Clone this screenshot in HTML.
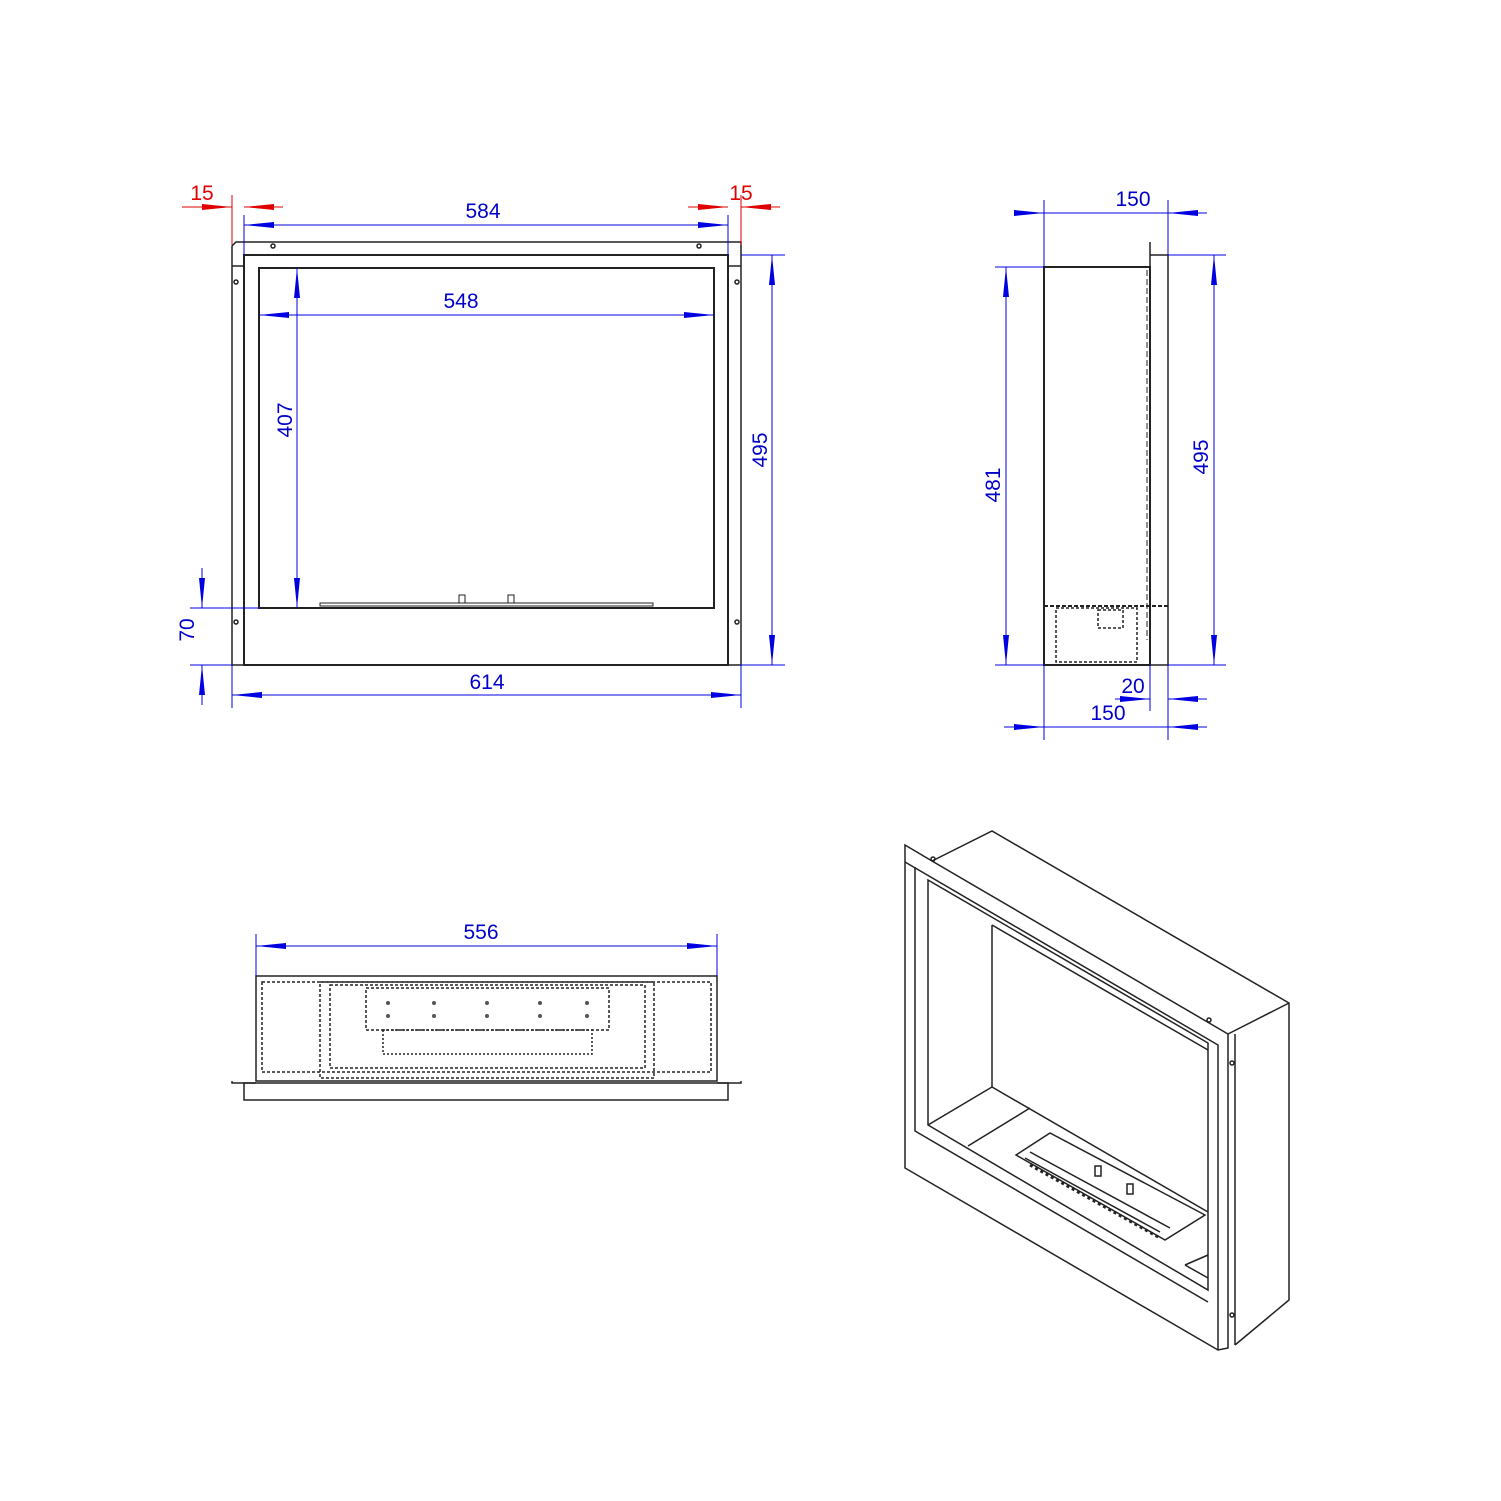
<!DOCTYPE html>
<html><head><meta charset="utf-8"><style>
html,body{margin:0;padding:0;background:#fff}
svg{display:block}
text{font-family:"Liberation Sans",sans-serif;font-size:21px}
</style></head><body>
<svg width="1501" height="1501" viewBox="0 0 1501 1501" xmlns="http://www.w3.org/2000/svg">
<defs>
<marker id="ab" viewBox="0 0 30 8" refX="30" refY="4" markerWidth="30" markerHeight="8" markerUnits="userSpaceOnUse" orient="auto-start-reverse"><path d="M0,1 L30,4 L0,7z" fill="#0000e0"/></marker>
<marker id="ar" viewBox="0 0 30 8" refX="30" refY="4" markerWidth="30" markerHeight="8" markerUnits="userSpaceOnUse" orient="auto-start-reverse"><path d="M0,1 L30,4 L0,7z" fill="#e00000"/></marker>
</defs>
<g fill="none" stroke="#222" stroke-width="1.5">
<path d="M236,242 H741 V665 H232 V246z"/>
<rect x="244" y="255" width="484" height="410" stroke-width="2"/>
<rect x="259" y="268" width="455" height="340" stroke-width="2"/>
<line x1="232" y1="266" x2="244" y2="266"/><line x1="728" y1="266" x2="741" y2="266"/>
<rect x="320" y="603" width="333" height="3" stroke-width="1"/>
<rect x="459" y="595" width="6" height="8" stroke-width="1"/><rect x="508" y="595" width="6" height="8" stroke-width="1"/>
<circle cx="273" cy="246" r="2"/><circle cx="699" cy="246" r="2"/>
<circle cx="236" cy="282" r="2"/><circle cx="236" cy="622" r="2"/><circle cx="737" cy="282" r="2"/><circle cx="737" cy="622" r="2"/>
<rect x="1044" y="267" width="106" height="398" stroke-width="2"/>
<path d="M1150,242 V665 H1168 V255 H1150"/>
<line x1="1044" y1="606" x2="1168" y2="606" stroke-dasharray="4,2" stroke-width="2"/>
<rect x="1056" y="608" width="81" height="54" stroke-dasharray="3,2"/>
<rect x="1098" y="610" width="25" height="18" stroke-dasharray="3,2"/>
<line x1="1147" y1="270" x2="1147" y2="640" stroke-dasharray="6,3" stroke-width="1"/>
<rect x="256" y="976" width="461" height="105"/>
<rect x="262" y="982" width="449" height="90" stroke-dasharray="3,2"/>
<rect x="320" y="982" width="334" height="96" stroke-dasharray="3,2"/>
<rect x="330" y="985" width="315" height="83" stroke-dasharray="3,2"/>
<rect x="366" y="988" width="243" height="42" stroke-dasharray="3,2"/>
<rect x="383" y="1030" width="209" height="24" stroke-dasharray="2,2"/>
<path d="M232,1081 V1083 H256 M717,1083 H741 V1081" />
<rect x="244" y="1083" width="484" height="17"/>
<path d="M905,845 L932,861 L1228,1034 L1228,1348 L1218,1350 L905,1168z"/>
<path d="M905,862 L1218,1045 L1218,1350"/>
<path d="M928,880 L1208,1043 L1208,1290 L928,1125z"/>
<path d="M915,867 L915,1131 L1208,1302"/>
<path d="M932,861 L992,831 L1289,1003 L1289,1300 L1235,1345"/>
<path d="M1228,1034 L1289,1003"/>
<path d="M1235,1034 V1345"/>
<path d="M992,925 V1087 L928,1125"/>
<path d="M992,925 L1208,1050"/>
<path d="M992,1087 L1208,1212"/>
<path d="M968,1146 L1030,1108"/>
<path d="M1016,1155 L1050,1133 L1205,1215 L1165,1240z"/>
<path d="M1025,1158 L1160,1232 M1030,1152 L1170,1228"/>
<path d="M1030,1165 L1160,1238" stroke-dasharray="3,3" stroke-width="3"/>
<path d="M1185,1265 L1208,1255 M1185,1265 L1208,1278"/>
<rect x="1095" y="1166" width="6" height="10"/><rect x="1127" y="1184" width="6" height="10"/>
<circle cx="933" cy="859" r="2"/><circle cx="1209" cy="1020" r="2"/><circle cx="1232" cy="1063" r="2"/><circle cx="1232" cy="1315" r="2"/>
</g>
<g fill="#555">
<circle cx="388" cy="1003" r="2"/><circle cx="434" cy="1003" r="2"/><circle cx="487" cy="1003" r="2"/><circle cx="540" cy="1003" r="2"/><circle cx="587" cy="1003" r="2"/>
<circle cx="388" cy="1016" r="2"/><circle cx="434" cy="1016" r="2"/><circle cx="487" cy="1016" r="2"/><circle cx="540" cy="1016" r="2"/><circle cx="587" cy="1016" r="2"/>
</g>
<g stroke="#0000e0" stroke-width="1" fill="none">
<line x1="244" y1="225" x2="728" y2="225" marker-start="url(#ab)" marker-end="url(#ab)"/>
<line x1="244" y1="215" x2="244" y2="255"/><line x1="728" y1="215" x2="728" y2="255"/>
<line x1="259" y1="315" x2="714" y2="315" marker-start="url(#ab)" marker-end="url(#ab)"/>
<line x1="297" y1="608" x2="297" y2="268" marker-start="url(#ab)" marker-end="url(#ab)"/>
<line x1="772" y1="255" x2="772" y2="665" marker-start="url(#ab)" marker-end="url(#ab)"/>
<line x1="741" y1="255" x2="785" y2="255"/><line x1="741" y1="665" x2="785" y2="665"/>
<line x1="202" y1="568" x2="202" y2="608" marker-end="url(#ab)"/>
<line x1="202" y1="705" x2="202" y2="665" marker-end="url(#ab)"/>
<line x1="190" y1="608" x2="259" y2="608"/><line x1="190" y1="665" x2="232" y2="665"/>
<line x1="232" y1="695" x2="741" y2="695" marker-start="url(#ab)" marker-end="url(#ab)"/>
<line x1="232" y1="665" x2="232" y2="708"/><line x1="741" y1="665" x2="741" y2="708"/>
<line x1="1018" y1="213" x2="1044" y2="213" marker-end="url(#ab)"/>
<line x1="1044" y1="213" x2="1168" y2="213"/>
<line x1="1207" y1="213" x2="1168" y2="213" marker-end="url(#ab)"/>
<line x1="1044" y1="200" x2="1044" y2="267"/><line x1="1168" y1="200" x2="1168" y2="255"/>
<line x1="1006" y1="267" x2="1006" y2="665" marker-start="url(#ab)" marker-end="url(#ab)"/>
<line x1="995" y1="267" x2="1044" y2="267"/><line x1="995" y1="665" x2="1044" y2="665"/>
<line x1="1214" y1="255" x2="1214" y2="665" marker-start="url(#ab)" marker-end="url(#ab)"/>
<line x1="1168" y1="255" x2="1226" y2="255"/><line x1="1168" y1="665" x2="1226" y2="665"/>
<line x1="1115" y1="699" x2="1150" y2="699" marker-end="url(#ab)"/>
<line x1="1207" y1="699" x2="1168" y2="699" marker-end="url(#ab)"/>
<line x1="1150" y1="665" x2="1150" y2="711"/><line x1="1168" y1="665" x2="1168" y2="740"/><line x1="1044" y1="665" x2="1044" y2="740"/>
<line x1="1004" y1="727" x2="1044" y2="727" marker-end="url(#ab)"/>
<line x1="1044" y1="727" x2="1168" y2="727"/>
<line x1="1207" y1="727" x2="1168" y2="727" marker-end="url(#ab)"/>
<line x1="256" y1="946" x2="717" y2="946" marker-start="url(#ab)" marker-end="url(#ab)"/>
<line x1="256" y1="934" x2="256" y2="976"/><line x1="717" y1="934" x2="717" y2="976"/>
</g>
<g stroke="#e00000" stroke-width="1" fill="none">
<line x1="182" y1="207" x2="232" y2="207" marker-end="url(#ar)"/>
<line x1="283" y1="207" x2="244" y2="207" marker-end="url(#ar)"/>
<line x1="232" y1="195" x2="232" y2="245"/>
<line x1="688" y1="207" x2="728" y2="207" marker-end="url(#ar)"/>
<line x1="780" y1="207" x2="741" y2="207" marker-end="url(#ar)"/>
<line x1="741" y1="195" x2="741" y2="245"/>
</g>
<g fill="#0000c8" text-anchor="middle">
<text x="483" y="218">584</text>
<text x="461" y="308">548</text>
<text x="487" y="689">614</text>
<text x="1133" y="206">150</text>
<text x="1133" y="693">20</text>
<text x="1108" y="720">150</text>
<text x="481" y="939">556</text>
<text transform="translate(292,420) rotate(-90)">407</text>
<text transform="translate(767,450) rotate(-90)">495</text>
<text transform="translate(194,630) rotate(-90)">70</text>
<text transform="translate(1000,485) rotate(-90)">481</text>
<text transform="translate(1208,457) rotate(-90)">495</text>
</g>
<g fill="#e00000" text-anchor="middle">
<text x="202" y="200">15</text>
<text x="741" y="200">15</text>
</g>
</svg>
</body></html>
